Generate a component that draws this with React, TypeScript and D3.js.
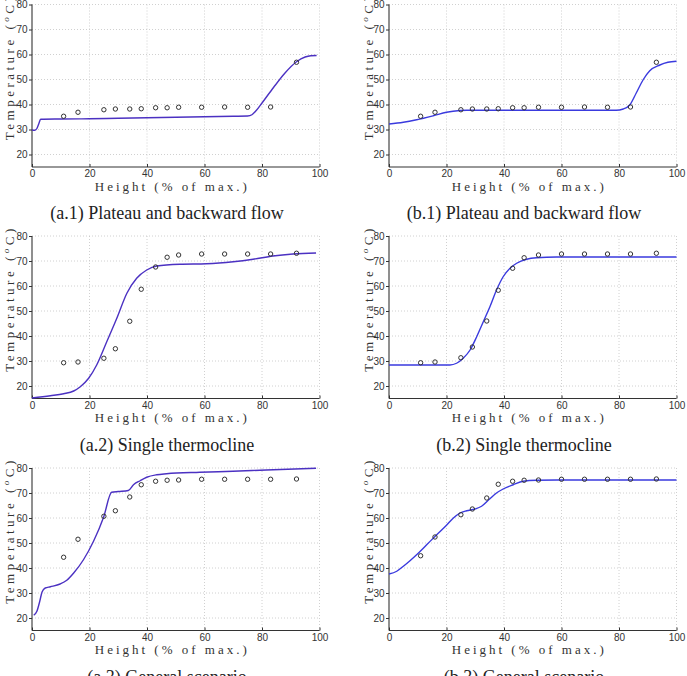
import { useEffect, useRef } from 'react';
import * as d3 from 'd3';

const WIDTH = 687;
const HEIGHT = 676;

const X_TICKS = [0, 20, 40, 60, 80, 100];
const Y_TICKS = [20, 30, 40, 50, 60, 70, 80];

// Sensor heights (% of max.) as plotted in each column
const sensorHeightsA = [11, 16, 25, 29, 34, 38, 43, 47, 51, 59, 67, 75, 83, 92];
const sensorHeightsB = [11, 16, 25, 29, 34, 38, 43, 47, 52, 60, 68, 76, 84, 93];

// Measured temperatures (°C)
const measuredA1 = [35.3, 36.9, 37.9, 38.2, 38.2, 38.3, 38.7, 38.7, 38.9, 38.9, 39.0, 38.9, 39.0, 56.9];
const measuredB1 = [35.3, 36.9, 37.9, 38.2, 38.2, 38.3, 38.7, 38.7, 38.9, 38.9, 39.0, 38.9, 39.0, 56.9];
const measuredA2 = [29.3, 29.6, 31.1, 34.9, 45.9, 58.7, 67.6, 71.5, 72.4, 72.8, 72.8, 72.8, 72.8, 73.1];
const measuredB2 = [29.3, 29.6, 31.3, 35.6, 46.0, 58.3, 67.1, 71.3, 72.4, 72.8, 72.8, 72.8, 72.8, 73.1];
const measuredA3 = [44.3, 51.5, 60.7, 62.9, 68.4, 73.3, 74.7, 75.1, 75.2, 75.5, 75.5, 75.5, 75.5, 75.6];
const measuredB3 = [44.9, 52.4, 61.3, 63.6, 68.0, 73.5, 74.7, 75.1, 75.2, 75.5, 75.5, 75.5, 75.5, 75.6];

// Model profiles [height, temperature]
const modelA1: [number, number][] = [
  [0, 29.8], [1, 29.7], [1.7, 30.4], [2.4, 32.4], [3, 34.1], [10, 34.2], [20, 34.3], [30, 34.5],
  [40, 34.7], [50, 34.9], [60, 35.1], [70, 35.3], [75, 35.4], [76.5, 35.9], [78, 37.6], [80, 40.6],
  [84, 46.8], [88, 52.6], [92, 57.1], [95, 59.0], [97, 59.5], [99, 59.6],
];
const modelB1: [number, number][] = [
  [0, 32.2], [5, 32.9], [9.6, 33.9], [15.4, 35.5], [20, 36.9], [24.7, 37.6], [27, 37.7], [40, 37.7],
  [60, 37.7], [79, 37.7], [81.5, 38.2], [83.8, 39.9], [86, 44.6], [88.4, 49.9], [90.7, 53.5],
  [94.2, 55.8], [97, 56.9], [100, 57.3],
];
const modelA2: [number, number][] = [
  [0, 15.2], [6.4, 16.1], [11, 16.9], [14.5, 18.0], [16.8, 19.7], [19.7, 23.1], [22.5, 28.4],
  [26, 37.7], [29.5, 47.1], [33, 57.1], [36.4, 63.1], [39.9, 66.4], [43.4, 68.0], [51.4, 68.7],
  [60.7, 68.9], [70, 69.7], [76.9, 70.7], [83.8, 72.0], [90.8, 72.8], [98.8, 73.2],
];
const modelB2: [number, number][] = [
  [0, 28.4], [10, 28.4], [21.2, 28.4], [23.5, 29.1], [25.8, 31.1], [28.2, 34.4], [30.5, 39.7],
  [32.8, 45.7], [35.1, 51.7], [37.4, 58.4], [39.7, 63.7], [42.1, 67.1], [44.4, 69.1], [47.9, 70.7],
  [51.3, 71.3], [58.3, 71.6], [80, 71.6], [100, 71.6],
];
const modelA3: [number, number][] = [
  [0.6, 21.1], [1.7, 22.7], [2.7, 26.7], [3.5, 30.4], [4.6, 32.0], [6.4, 32.5], [9.8, 33.6],
  [12.1, 35.1], [14.5, 38.0], [17.9, 43.3], [21.4, 50.7], [24.9, 60.3], [27.7, 70.3], [30, 70.6],
  [33.5, 71.0], [35.3, 73.3], [37.6, 74.9], [39.9, 76.3], [43.4, 77.3], [46.8, 77.7], [58.4, 78.3],
  [69.9, 78.7], [81.5, 79.2], [98.8, 79.9],
];
const modelB3: [number, number][] = [
  [0, 37.6], [2.7, 38.7], [5, 40.7], [7.3, 42.9], [9.6, 45.3], [13.1, 49.3], [16.6, 53.3],
  [20, 57.1], [22.4, 60.0], [24.7, 62.0], [27, 62.9], [29.9, 63.6], [32.2, 64.7], [35.1, 67.7],
  [37.4, 70.0], [39.7, 71.6], [43.2, 73.3], [46.7, 74.7], [51.3, 75.1], [58.3, 75.2], [100, 75.2],
];

const captions = [
  '(a.1) Plateau and backward flow',
  '(b.1) Plateau and backward flow',
  '(a.2) Single thermocline',
  '(b.2) Single thermocline',
  '(a.3) General scenario',
  '(b.3) General scenario',
];

const COL_LEFT = [32, 389];
const PLOT_W = 287.5;
const ROW_TOP = [4.5, 236, 468];
const PLOT_H = 162.5;
const CAPTION_X = [167, 524];
const LINE_COLORS = ['#4b31c2', '#3a3ade'];

interface Panel {
  col: number;
  row: number;
  heights: number[];
  measured: number[];
  model: [number, number][];
  caption: string;
}

const panels: Panel[] = [
  { col: 0, row: 0, heights: sensorHeightsA, measured: measuredA1, model: modelA1, caption: captions[0] },
  { col: 1, row: 0, heights: sensorHeightsB, measured: measuredB1, model: modelB1, caption: captions[1] },
  { col: 0, row: 1, heights: sensorHeightsA, measured: measuredA2, model: modelA2, caption: captions[2] },
  { col: 1, row: 1, heights: sensorHeightsB, measured: measuredB2, model: modelB2, caption: captions[3] },
  { col: 0, row: 2, heights: sensorHeightsA, measured: measuredA3, model: modelA3, caption: captions[4] },
  { col: 1, row: 2, heights: sensorHeightsB, measured: measuredB3, model: modelB3, caption: captions[5] },
];

const SERIF = '"Liberation Serif", "DejaVu Serif", serif';
const SANS = '"Liberation Sans", Arial, sans-serif';

export default function App() {
  const svgRef = useRef<SVGSVGElement>(null);

  useEffect(() => {
    if (!svgRef.current) return;
    const svg = d3.select(svgRef.current);
    svg.selectAll('*').remove();

    svg.append('rect').attr('width', WIDTH).attr('height', HEIGHT).attr('fill', '#fff');

    panels.forEach((p) => {
      const left = COL_LEFT[p.col];
      const top = ROW_TOP[p.row];

      const x = d3.scaleLinear().domain([0, 100]).range([0, PLOT_W]);
      const y = d3.scaleLinear().domain([15, 80]).range([PLOT_H, 0]);

      const g = svg.append('g').attr('transform', `translate(${left},${top})`);

      // dotted grid
      g.append('g')
        .selectAll('line')
        .data(Y_TICKS)
        .join('line')
        .attr('x1', 0)
        .attr('x2', PLOT_W)
        .attr('y1', (d) => y(d))
        .attr('y2', (d) => y(d))
        .attr('stroke', '#c4c4c4')
        .attr('stroke-width', 0.8)
        .attr('stroke-dasharray', '1,2');

      g.append('g')
        .selectAll('line')
        .data(X_TICKS.filter((d) => d > 0))
        .join('line')
        .attr('x1', (d) => x(d))
        .attr('x2', (d) => x(d))
        .attr('y1', 0)
        .attr('y2', PLOT_H)
        .attr('stroke', '#c4c4c4')
        .attr('stroke-width', 0.8)
        .attr('stroke-dasharray', '1,2');

      // axes
      const yAxis = d3.axisLeft(y).tickValues(Y_TICKS).tickSize(3).tickPadding(1.5);
      const yg = g.append('g').call(yAxis);
      yg.select('.domain').remove();
      yg.selectAll('line').attr('stroke', '#333');
      yg.selectAll('text')
        .attr('fill', '#333')
        .style('font-family', SANS)
        .style('font-size', '10px');

      const xAxis = d3.axisBottom(x).tickValues(X_TICKS).tickSize(-3).tickPadding(3);
      const xg = g.append('g').attr('transform', `translate(0,${PLOT_H})`).call(xAxis);
      xg.select('.domain').remove();
      xg.selectAll('line').attr('stroke', '#333');
      xg.selectAll('text')
        .attr('fill', '#333')
        .style('font-family', SANS)
        .style('font-size', '10px');

      g.append('line')
        .attr('x1', 0).attr('x2', 0).attr('y1', 0).attr('y2', PLOT_H)
        .attr('stroke', '#333').attr('stroke-width', 1.1);
      g.append('line')
        .attr('x1', 0).attr('x2', PLOT_W).attr('y1', PLOT_H).attr('y2', PLOT_H)
        .attr('stroke', '#333').attr('stroke-width', 1.1);

      // model profile
      const line = d3.line<[number, number]>()
        .x((d) => x(d[0]))
        .y((d) => y(d[1]))
        .curve(d3.curveMonotoneX);

      g.append('path')
        .datum(p.model)
        .attr('fill', 'none')
        .attr('stroke', LINE_COLORS[p.col])
        .attr('stroke-width', 1.4)
        .attr('d', line);

      // measurements
      g.append('g')
        .selectAll('circle')
        .data(p.heights.map((h, i) => [h, p.measured[i]] as [number, number]))
        .join('circle')
        .attr('cx', (d) => x(d[0]))
        .attr('cy', (d) => y(d[1]))
        .attr('r', 2.2)
        .attr('fill', 'none')
        .attr('stroke', '#333')
        .attr('stroke-width', 1);

      // axis titles
      g.append('text')
        .attr('x', PLOT_W / 2 - 5)
        .attr('y', PLOT_H + 23.5)
        .attr('text-anchor', 'middle')
        .attr('textLength', 152)
        .attr('lengthAdjust', 'spacing')
        .attr('fill', '#333')
        .style('font-family', SERIF)
        .style('font-size', '13px')
        .text('Height (% of max.)');

      const yt = g.append('text')
        .attr('transform', `translate(${p.col === 0 ? -18.5 : -16.5},${PLOT_H / 2 - 17}) rotate(-90)`)
        .attr('text-anchor', 'middle')
        .attr('textLength', 143)
        .attr('lengthAdjust', 'spacing')
        .attr('fill', '#333')
        .style('font-family', SERIF)
        .style('font-size', '13px');
      yt.append('tspan').text('Temperature (');
      yt.append('tspan').attr('font-style', 'italic').attr('font-size', '9px').attr('dy', -5).text('o');
      yt.append('tspan').attr('dy', 5).text('C)');

      // caption
      svg.append('text')
        .attr('x', CAPTION_X[p.col])
        .attr('y', top + PLOT_H + 52)
        .attr('text-anchor', 'middle')
        .attr('fill', '#222')
        .style('font-family', SERIF)
        .style('font-size', '18px')
        .text(p.caption);
    });
  }, []);

  return (
    <svg
      ref={svgRef}
      width={WIDTH}
      height={HEIGHT}
      style={{ position: 'absolute', left: 0, top: 0, display: 'block' }}
    />
  );
}
